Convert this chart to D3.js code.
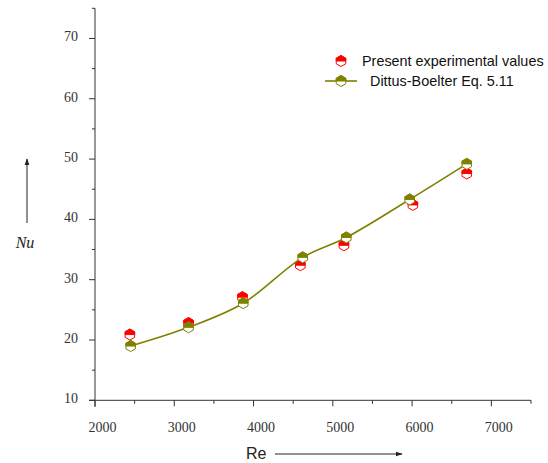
<!DOCTYPE html>
<html>
<head>
<meta charset="utf-8">
<script src="https://cdn.jsdelivr.net/npm/d3@7"></script>
<style>
  html, body { margin: 0; padding: 0; background: #fff; }
  svg { display: block; }
</style>
</head>
<body>
<svg id="chart" width="548" height="463"></svg>
<script>
// Nusselt number vs Reynolds number: measured values and Dittus-Boelter prediction
const expRe = [2440, 3180, 3860, 4590, 5140, 6010, 6690];
const expNu = [20.9, 22.8, 27.1, 32.4, 35.7, 42.4, 47.6];
const dbRe  = [2450, 3180, 3870, 4620, 5170, 5970, 6690];
const dbNu  = [19.0, 22.1, 26.1, 33.7, 37.0, 43.3, 49.2];
const xTicks = [2000, 3000, 4000, 5000, 6000, 7000];
const yTicks = [10, 20, 30, 40, 50, 60, 70];
const legendLabels = ["Present experimental values", "Dittus-Boelter Eq. 5.11"];

const RED = "#ff0000", OLIVE = "#808000", AXIS = "#333";

const svg = d3.select("#chart");
const x = d3.scaleLinear().domain([2000, 7500]).range([95, 531]);
const y = d3.scaleLinear().domain([10, 75]).range([400.3, 8.3]);

// axes
const gx = svg.append("g").attr("transform", "translate(0,400.3)");
gx.append("line").attr("x1", 89).attr("x2", 531).attr("stroke", AXIS).attr("stroke-width", 1);
const xMinor = d3.range(2000, 7501, 500);
gx.selectAll("line.tk").data(xMinor).join("line").attr("class", "tk")
  .attr("x1", d => x(d)).attr("x2", d => x(d))
  .attr("y1", 0).attr("y2", d => d % 1000 === 0 ? 6 : 3.5)
  .attr("stroke", AXIS).attr("stroke-width", 1);
gx.selectAll("text").data(xTicks).join("text")
  .attr("x", d => x(d) + 7.5).attr("y", 32)
  .attr("text-anchor", "middle")
  .attr("font-family", "'Liberation Serif','Times New Roman',serif")
  .attr("font-size", 14).attr("fill", AXIS)
  .text(d => d);

const gy = svg.append("g").attr("transform", "translate(95,0)");
gy.append("line").attr("y1", 8.3).attr("y2", 407).attr("stroke", AXIS).attr("stroke-width", 1);
const yMinor = d3.range(10, 76, 5);
gy.selectAll("line.tk").data(yMinor).join("line").attr("class", "tk")
  .attr("y1", d => y(d)).attr("y2", d => y(d))
  .attr("x1", d => d % 10 === 0 ? -6 : -3).attr("x2", 0)
  .attr("stroke", AXIS).attr("stroke-width", 1);
gy.selectAll("text").data(yTicks).join("text")
  .attr("x", -17).attr("y", d => y(d) + 3)
  .attr("text-anchor", "end")
  .attr("font-family", "'Liberation Serif','Times New Roman',serif")
  .attr("font-size", 14).attr("fill", AXIS)
  .text(d => d);

// arrow heads
const defs = svg.append("defs");
defs.append("marker").attr("id", "arr").attr("viewBox", "0 0 10 10")
  .attr("refX", 9).attr("refY", 5).attr("markerWidth", 7).attr("markerHeight", 7)
  .attr("markerUnits", "userSpaceOnUse").attr("orient", "auto")
  .append("path").attr("d", "M0,1.5 L10,5 L0,8.5 Z").attr("fill", "#222");

// axis titles
svg.append("line").attr("x1", 27).attr("x2", 27).attr("y1", 223).attr("y2", 159)
  .attr("stroke", "#222").attr("stroke-width", 1).attr("marker-end", "url(#arr)");
svg.append("text").attr("x", 25).attr("y", 248).attr("text-anchor", "middle")
  .attr("font-family", "'Liberation Serif','Times New Roman',serif")
  .attr("font-style", "italic").attr("font-size", 16).attr("fill", "#222").text("Nu");

svg.append("text").attr("x", 246).attr("y", 459)
  .attr("font-family", "'Liberation Sans',Arial,sans-serif")
  .attr("font-size", 16).attr("fill", "#222").text("Re");
svg.append("line").attr("x1", 275).attr("x2", 402).attr("y1", 454).attr("y2", 454)
  .attr("stroke", "#222").attr("stroke-width", 1).attr("marker-end", "url(#arr)");

// half-filled hexagon marker
const R = 5.5, W = R * Math.cos(Math.PI / 6);
const hexPath = `M0,${-R} L${W},${-R/2} L${W},${R/2} L0,${R} L${-W},${R/2} L${-W},${-R/2} Z`;
const topPath = `M${-W},0 L${-W},${-R/2} L0,${-R} L${W},${-R/2} L${W},0 Z`;
function marker(g, color) {
  g.append("path").attr("d", hexPath).attr("fill", "#fff").attr("stroke", color).attr("stroke-width", 1);
  g.append("path").attr("d", topPath).attr("fill", color).attr("stroke", color).attr("stroke-width", 1);
}

// Dittus-Boelter curve
const dbData = dbRe.map((r, i) => [r, dbNu[i]]);
const expData = expRe.map((r, i) => [r, expNu[i]]);
const line = d3.line().x(d => x(d[0])).y(d => y(d[1])).curve(d3.curveCatmullRom.alpha(0.5));

// experimental points
svg.append("g").selectAll("g").data(expData).join("g")
  .attr("transform", d => `translate(${x(d[0])},${y(d[1])})`)
  .each(function () { marker(d3.select(this), RED); });

svg.append("path").datum(dbData).attr("d", line)
  .attr("fill", "none").attr("stroke", OLIVE).attr("stroke-width", 1.6);

svg.append("g").selectAll("g").data(dbData).join("g")
  .attr("transform", d => `translate(${x(d[0])},${y(d[1])})`)
  .each(function () { marker(d3.select(this), OLIVE); });

// legend
const lg = svg.append("g");
marker(lg.append("g").attr("transform", "translate(341,61)"), RED);
lg.append("text").attr("x", 362).attr("y", 66)
  .attr("font-family", "'Liberation Sans',Arial,sans-serif")
  .attr("font-size", 14.4).attr("fill", "#111").text(legendLabels[0]);
lg.append("line").attr("x1", 325).attr("x2", 357).attr("y1", 81).attr("y2", 81)
  .attr("stroke", OLIVE).attr("stroke-width", 1.6);
marker(lg.append("g").attr("transform", "translate(341,81)"), OLIVE);
lg.append("text").attr("x", 370).attr("y", 85.5)
  .attr("font-family", "'Liberation Sans',Arial,sans-serif")
  .attr("font-size", 14.4).attr("fill", "#111").text(legendLabels[1]);
</script>
</body>
</html>
